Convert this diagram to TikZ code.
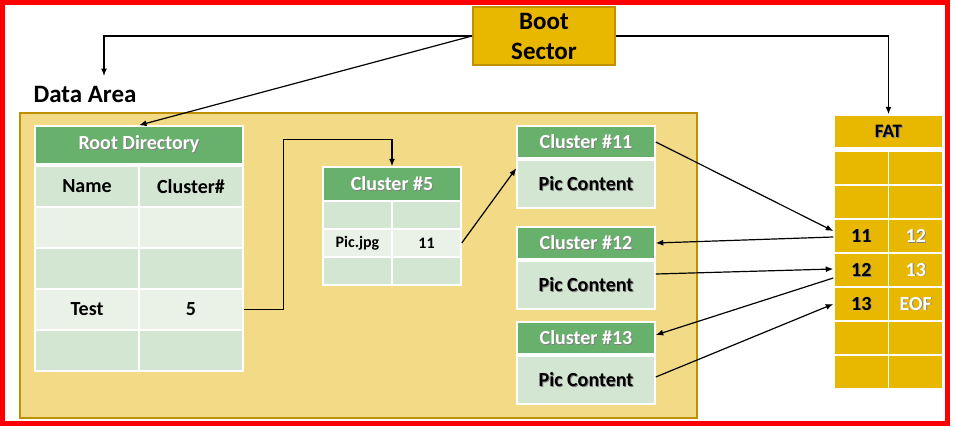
\documentclass[tikz,border=0pt]{standalone}
\usepackage{fontspec}
\setmainfont{Carlito}
\usetikzlibrary{arrows.meta}

\definecolor{gold}{HTML}{E8B700}
\definecolor{golddark}{HTML}{BF9000}
\definecolor{arealight}{HTML}{F3DA86}
\definecolor{hdgreen}{HTML}{68B16C}
\definecolor{rowdark}{HTML}{D3E6D2}
\definecolor{rowlight}{HTML}{EAF2E8}

\newcommand{\shd}[1]{\makebox[0pt][l]{\hspace{0.9pt}\raisebox{-0.9pt}{\textcolor{black!50}{#1}}}#1}

\tikzset{
	cell/.style={draw=white, line width=1.5pt, inner sep=0pt, font=\bfseries\fontsize{20}{24}\selectfont},
	hdcell/.style={cell, fill=hdgreen, text=white},
	fatcell/.style={cell, fill=gold, font=\bfseries\fontsize{20}{24}\selectfont},
	arr/.style={-{Latex[length=7.5pt,width=6pt]}, line width=1.2pt},
}

\begin{document}
\begin{tikzpicture}[x=1pt,y=-1pt]
	\useasboundingbox (0,0) rectangle (956,426);
	\fill[white] (0,0) rectangle (956,426);

	\draw[golddark, fill=arealight, line width=2pt] (20,113) rectangle (697,418);	%data area
	\node[font=\bfseries\fontsize{25}{30}\selectfont] (datalbl) at (85,94) {Data Area};
	\coordinate (datatip) at (104,76);

	\node[draw=golddark, fill=gold, line width=2pt, minimum width=142pt, minimum height=58pt, inner sep=0pt,
		align=center, font=\bfseries\fontsize{25}{30}\selectfont] (boot) at (544,36) {Boot\\Sector};

	% root directory
	\node[hdcell, minimum width=208pt, minimum height=38pt] (roothd) at (139,145) {\shd{Root Directory}};
	\foreach \i/\yy/\fc/\ta/\tb in {1/186.5/rowdark/Name/Cluster\#, 2/227.5/rowlight//, 3/268.5/rowdark//,
		4/309.5/rowlight/Test/5, 5/350.5/rowdark//}{
		\node[cell, fill=\fc, minimum width=104pt, minimum height=41pt] (rd\i-a) at (87,\yy) {\ta};
		\node[cell, fill=\fc, minimum width=104pt, minimum height=41pt] (rd\i-b) at (191,\yy) {\tb};
	}

	% cluster 5
	\node[hdcell, minimum width=138pt, minimum height=34pt] (c5hd) at (392,184) {\shd{Cluster \#5}};
	\foreach \i/\yy/\fc/\ta/\tb in {1/215/rowdark//, 2/243/rowlight/Pic.jpg/11, 3/271/rowdark//}{
		\node[cell, fill=\fc, minimum width=69pt, minimum height=28pt, font=\bfseries\fontsize{16}{18}\selectfont] (c5r\i-a) at (357.5,\yy) {\ta};
		\node[cell, fill=\fc, minimum width=69pt, minimum height=28pt, font=\bfseries\fontsize{16}{18}\selectfont] (c5r\i-b) at (426.5,\yy) {\tb};
	}

	% clusters 11, 12, 13
	\foreach \n/\yy in {11/142, 12/243, 13/338}{
		\node[hdcell, minimum width=138pt, minimum height=32pt] (c\n hd) at (586,\yy) {\shd{Cluster \#\n}};
		\node[cell, fill=rowdark, minimum width=138pt, minimum height=48pt] (c\n ct) at (586,\yy+42) {\shd{Pic Content}};
	}

	% fat
	\node[fatcell, minimum width=109pt, minimum height=33pt, font=\bfseries\fontsize{19}{22}\selectfont] (fathd) at (888.5,131.5) {\shd{FAT}};
	\foreach \i/\ta/\tb in {1//, 2//, 3/11/12, 4/12/13, 5/13/EOF, 6//, 7//}{
		\node[fatcell, minimum width=54.5pt, minimum height=34pt] (fat\i-a) at (861.25,{134+34*\i}) {\shd{\ta}};
		\node[fatcell, minimum width=54.5pt, minimum height=34pt, text=white] (fat\i-b) at (915.75,{134+34*\i}) {\shd{\tb}};
	}

	\draw[arr] (boot.west) -| (datatip);			%boot--data area
	\draw[arr] (boot.west) -- (roothd.north);		%boot--root
	\draw[arr] (boot.east) -| (fathd.north);		%boot--fat
	\draw[arr] (rd4-b.east) -- ++(40,0) |- ([yshift=27pt]c5hd.north) -- (c5hd.north);	%test--cluster 5
	\draw[arr] (c5r2-b.east) -- ([yshift=-9pt]c11ct.north west);	%pic.jpg--cluster 11
	\draw[arr] (c11hd.east) -- ([yshift=5pt]fat3-a.west);		%11--fat
	\draw[arr] ([yshift=-1pt]fat3-a.west) -- (c12hd.east);		%fat--12
	\draw[arr] ([yshift=11pt]c12ct.east) -- ([yshift=1pt]fat4-a.west);	%12--fat
	\draw[arr] ([yshift=-8pt]fat4-a.west) -- ([yshift=3pt]c13hd.east);	%fat--13
	\draw[arr] ([yshift=3pt]c13ct.east) -- (fat5-a.west);		%13--fat

	\draw[red, line width=5pt] (2.5,2.5) rectangle (947.5,423.5);	%frame
\end{tikzpicture}
\end{document}
